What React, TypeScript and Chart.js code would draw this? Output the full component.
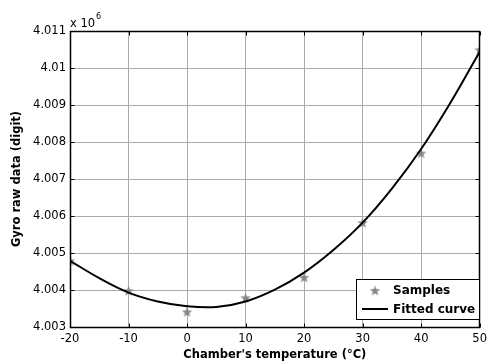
import React, { useEffect, useRef } from "react";
import { Chart, registerables } from "chart.js";

Chart.register(...registerables);

// Sample measurements (chamber temperature in °C, gyro raw data in digits)
const temperatures = [-20, -10, 0, 10, 20, 30, 40, 50];
const sampleDigits = [4004790, 4003980, 4003410, 4003790, 4004340, 4005820, 4007700, 4010490];

// Fitted curve
const curveTemperatures = [-20, -15, -10, -5, 0, 5, 10, 15, 20, 25, 30, 35, 40, 45, 50];
const curveDigits = [
  4004790, 4004320, 4003930, 4003690, 4003560, 4003540, 4003690, 4004010,
  4004470, 4005080, 4005820, 4006740, 4007810, 4009060, 4010440,
];

const xTickValues = [-20, -10, 0, 10, 20, 30, 40, 50];
const yTickValues = [4003000, 4004000, 4005000, 4006000, 4007000, 4008000, 4009000, 4010000, 4011000];

const xTitle = "Chamber's temperature (°C)";
const yTitle = "Gyro raw data (digit)";
const exponentBase = "x 10";
const exponentPower = "6";
const legendSamples = "Samples";
const legendCurve = "Fitted curve";

const FONT = "'DejaVu Sans', 'Liberation Sans', sans-serif";
const STAR_COLOR = "#868686";

function makeStar(r: number, color: string): HTMLCanvasElement {
  const c = document.createElement("canvas");
  const size = Math.ceil(r * 2) + 2;
  c.width = size;
  c.height = size;
  const ctx = c.getContext("2d")!;
  const cx = size / 2;
  const cy = size / 2 + 0.5;
  const inner = r * 0.42;
  ctx.beginPath();
  for (let i = 0; i < 10; i++) {
    const rad = i % 2 === 0 ? r : inner;
    const ang = -Math.PI / 2 + (i * Math.PI) / 5;
    const px = cx + rad * Math.cos(ang);
    const py = cy + rad * Math.sin(ang);
    if (i === 0) ctx.moveTo(px, py);
    else ctx.lineTo(px, py);
  }
  ctx.closePath();
  ctx.fillStyle = color;
  ctx.fill();
  return c;
}

export default function App() {
  const ref = useRef<HTMLCanvasElement>(null);

  useEffect(() => {
    const star = makeStar(5.5, STAR_COLOR);

    const decor = {
      id: "matlabDecor",
      afterDatasetsDraw(chart: any) {
        const { ctx, chartArea: a, scales } = chart;
        const xs = scales.x;
        const ys = scales.y;
        ctx.save();
        // axes box
        ctx.strokeStyle = "#000";
        ctx.lineWidth = 1.5;
        const L = Math.round(a.left) + 0.5;
        const R = Math.round(a.right) - 0.5;
        const T = Math.round(a.top) + 0.5;
        const B = Math.round(a.bottom) + 0.5;
        ctx.strokeRect(L, T, R - L, B - T);
        // inward ticks
        ctx.lineWidth = 1;
        ctx.beginPath();
        for (const v of xTickValues) {
          const px = Math.round(xs.getPixelForValue(v)) + 0.5;
          ctx.moveTo(px, B);
          ctx.lineTo(px, B - 4);
          ctx.moveTo(px, T);
          ctx.lineTo(px, T + 4);
        }
        for (const v of yTickValues) {
          const py = Math.round(ys.getPixelForValue(v)) + 0.5;
          ctx.moveTo(L, py);
          ctx.lineTo(L + 4, py);
          ctx.moveTo(R, py);
          ctx.lineTo(R - 4, py);
        }
        ctx.stroke();

        // axis titles
        ctx.fillStyle = "#000";
        ctx.font = `bold 11.5px ${FONT}`;
        ctx.textAlign = "center";
        ctx.textBaseline = "middle";
        ctx.fillText(xTitle, (a.left + a.right) / 2, 355);
        ctx.save();
        ctx.translate(17.5, (a.top + a.bottom) / 2);
        ctx.rotate(-Math.PI / 2);
        ctx.fillText(yTitle, 0, 0);
        ctx.restore();

        // exponent label
        ctx.textAlign = "left";
        ctx.textBaseline = "alphabetic";
        ctx.font = `11.5px ${FONT}`;
        ctx.fillText(exponentBase, a.left, 27);
        const w = ctx.measureText(exponentBase).width;
        ctx.font = `8px ${FONT}`;
        ctx.fillText(exponentPower, a.left + w + 1, 19);

        // legend
        const lx = 356;
        const ly = 279;
        const lw = 123;
        const lh = 40;
        ctx.fillStyle = "#fff";
        ctx.fillRect(lx, ly, lw, lh);
        ctx.strokeStyle = "#000";
        ctx.lineWidth = 1;
        ctx.strokeRect(lx + 0.5, ly + 0.5, lw, lh);
        ctx.drawImage(star, 375 - star.width / 2, 290.5 - star.height / 2);
        ctx.lineWidth = 2;
        ctx.beginPath();
        ctx.moveTo(362, 309);
        ctx.lineTo(388, 309);
        ctx.stroke();
        ctx.fillStyle = "#000";
        ctx.font = `bold 12px ${FONT}`;
        ctx.textBaseline = "middle";
        ctx.fillText(legendSamples, 393, 291);
        ctx.fillText(legendCurve, 393, 309.5);
        ctx.restore();
      },
    };

    const tickFont = { family: FONT, size: 11.5 };

    const chart = new Chart(ref.current!, {
      type: "scatter",
      data: {
        datasets: [
          {
            label: legendCurve,
            data: curveTemperatures.map((x, i) => ({ x, y: curveDigits[i] })),
            showLine: true,
            borderColor: "#000",
            borderWidth: 2,
            pointRadius: 0,
            tension: 0.4,
            order: 0,
          } as any,
          {
            label: legendSamples,
            data: temperatures.map((x, i) => ({ x, y: sampleDigits[i] })),
            showLine: false,
            pointStyle: star,
            pointRadius: 5.5,
            backgroundColor: STAR_COLOR,
            borderColor: STAR_COLOR,
            order: 1,
          } as any,
        ],
      },
      options: {
        animation: false,
        responsive: true,
        maintainAspectRatio: false,
        layout: { padding: { top: 31, right: 8, left: 0, bottom: 0 } },
        plugins: {
          legend: { display: false },
          tooltip: { enabled: false },
        },
        scales: {
          x: {
            type: "linear",
            min: -20,
            max: 50,
            afterBuildTicks: (s: any) => {
              s.ticks = xTickValues.map((v) => ({ value: v }));
            },
            ticks: {
              font: tickFont,
              color: "#000",
              padding: 5,
              callback: (v: any) => String(v),
            },
            grid: { color: "#ababab", lineWidth: 1, drawTicks: false },
            border: { display: false },
            afterFit: (s: any) => {
              s.height = 35;
            },
          },
          y: {
            type: "linear",
            min: 4003000,
            max: 4011000,
            afterBuildTicks: (s: any) => {
              s.ticks = yTickValues.map((v) => ({ value: v }));
            },
            ticks: {
              font: tickFont,
              color: "#000",
              padding: 4,
              callback: (v: any) => String(Number((Number(v) / 1e6).toFixed(3))),
            },
            grid: { color: "#ababab", lineWidth: 1, drawTicks: false },
            border: { display: false },
            afterFit: (s: any) => {
              s.width = 70;
            },
          },
        },
      } as any,
      plugins: [decor],
    });

    return () => chart.destroy();
  }, []);

  return (
    <div style={{ position: "absolute", left: 0, top: 0, width: 492, height: 362, background: "#fff" }}>
      <canvas ref={ref} />
    </div>
  );
}
